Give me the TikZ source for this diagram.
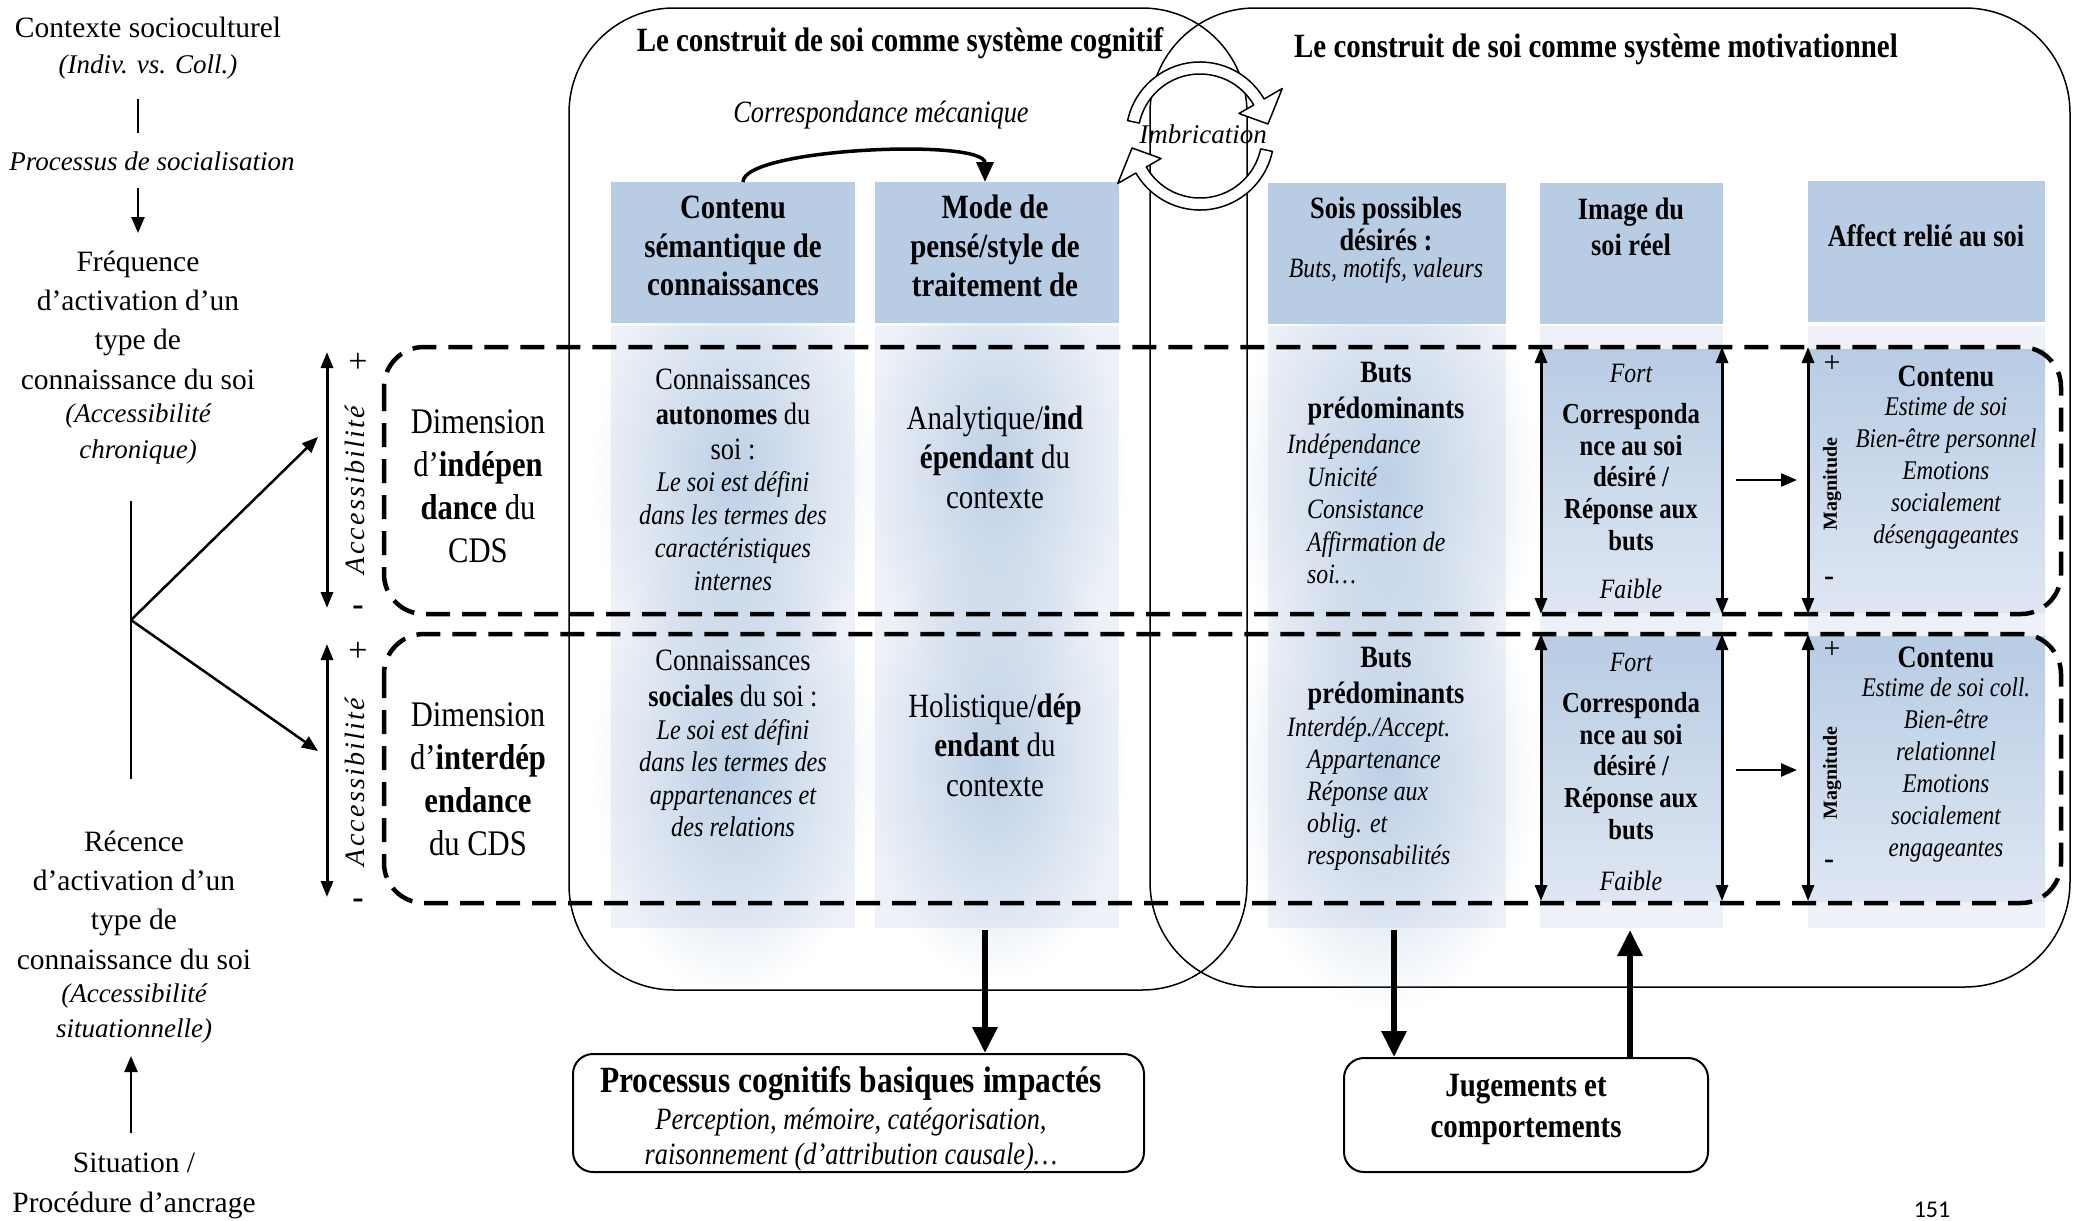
\documentclass[tikz,border=0pt]{standalone}
\usepackage{fontspec}
\setmainfont{Liberation Serif}
\newfontfamily\cond{Liberation Serif}[FakeStretch=0.85]
\newfontfamily\carl{Carlito}
\usetikzlibrary{arrows.meta,calc,fadings}
\definecolor{hdr}{RGB}{184,204,228}
\definecolor{bgc}{RGB}{238,242,248}
\colorlet{rowlow}{hdr!30!bgc}
\newcommand{\fsz}[2]{\fontsize{#1}{#2}\selectfont}
\tikzfading[name=blobfade, inner color=transparent!10, outer color=transparent!100]
\tikzset{
  tline/.style={line width=1.5pt},
  dbox/.style={line width=4.5pt, dash pattern=on 24pt off 12pt, rounded corners=40pt},
  bigarr/.style={line width=6pt, -{Triangle[length=26pt,width=24pt]}},
  medarr/.style={line width=2.5pt, -{Triangle[length=16pt,width=13pt]}},
  dblarr/.style={line width=3pt, {Triangle[length=16pt,width=12pt]}-{Triangle[length=16pt,width=12pt]}},
  txt/.style={inner sep=0pt, align=center},
  leftreg/.style={txt, font=\fsz{29.5}{39.3}},
  leftit/.style={txt, font=\itshape\fsz{27}{36}},
  hdrtxt/.style={txt, font=\cond\bfseries\fsz{34}{38.7}},
  coltxt/.style={txt, font=\cond\fsz{31}{35}},
  colit/.style={txt, font=\cond\itshape\fsz{28.5}{33}},
  boxtxt/.style={txt, font=\cond\fsz{34}{39.5}},
  ringarr/.style={fill=white, draw=black, line width=1.5pt},
  blob/.style={fill=hdr, path fading=blobfade},
  sign/.style={inner sep=0pt, font=\fsz{34}{36}},
  signm/.style={inner sep=0pt, font=\bfseries\fsz{34}{36}},
  rbox/.style={draw, line width=2pt, rounded corners=20pt, inner sep=0pt}
}
\begin{document}
\begin{tikzpicture}[x=1pt, y=-1pt, line join=round]
\useasboundingbox (0,0) rectangle (2078,1221);
\fill[white] (0,0) rectangle (2078,1221);

% ---------- big rounded systems ----------
\draw[tline, rounded corners=105pt] (569,8) rectangle (1247,990);
\draw[tline, rounded corners=105pt] (1150,8) rectangle (2070,987);

% ---------- column backgrounds ----------
\fill[bgc] (611,326) rectangle (855,928);
\fill[bgc] (875,326) rectangle (1119,928);
\fill[bgc] (1268,326) rectangle (1506,928);
\fill[bgc] (1540,326) rectangle (1723,928);
\fill[bgc] (1808,326) rectangle (2045,928);

\fill[blob] (593,245) rectangle (873,705);
\fill[blob] (593,535) rectangle (873,995);
\fill[blob] (865,250) rectangle (1125,690);
\fill[blob] (865,540) rectangle (1125,980);
\fill[blob] (1236,240) rectangle (1536,720);
\fill[blob] (1236,530) rectangle (1536,1010);

\shade[top color=hdr, bottom color=rowlow] (1540,349) rectangle (1723,612);
\shade[top color=hdr, bottom color=rowlow] (1540,636) rectangle (1723,901);
\shade[top color=hdr, bottom color=rowlow] (1808,349) rectangle (2045,612);
\shade[top color=hdr, bottom color=rowlow] (1808,636) rectangle (2045,901);

% ---------- headers ----------
\fill[hdr] (611,182) rectangle (855,323);
\fill[hdr] (875,182) rectangle (1119,323);
\fill[hdr] (1268,183) rectangle (1506,324);
\fill[hdr] (1540,183) rectangle (1723,324);
\fill[hdr] (1808,181) rectangle (2045,322);

\node[hdrtxt] (h1) at (733,246) {Contenu\\sémantique de\\connaissances};
\node[hdrtxt] (h2) at (995,246) {Mode de\\pensé/style de\\traitement de};
\node[txt, font=\cond\bfseries\fsz{31}{32}] (h3) at (1386,224) {Sois possibles\\désirés :};
\node[txt, font=\cond\itshape\fsz{28}{30}] (h3b) at (1386,271) {Buts, motifs, valeurs};
\node[txt, font=\cond\bfseries\fsz{31}{36}] (h4) at (1631,227) {Image du\\soi réel};
\node[txt, font=\cond\bfseries\fsz{31}{34}] (h5) at (1926,236) {Affect relié au soi};

% ---------- titles ----------
\node[txt, font=\cond\bfseries\fsz{34}{38}] (tcog) at (900,43) {Le construit de soi comme système cognitif};
\node[txt, font=\cond\bfseries\fsz{34}{38}] (tmot) at (1596,49) {Le construit de soi comme système motivationnel};
\node[txt, font=\cond\itshape\fsz{31}{34}] (corr) at (881,115) {Correspondance mécanique};
\coordinate (h1top) at (743,182);
\coordinate (h2top) at (985,182);
\draw[line width=3.5pt, -{Triangle[length=20pt,width=17pt]}] (h1top) .. controls (743,148) and (985,138) .. (h2top);

% ---------- imbrication ring ----------
\begin{scope}[shift={(1200,136)}]
\filldraw[ringarr] (192:74) arc[start angle=192, end angle=330, radius=74] -- (330:95) -- (350:69) -- (330:45) -- (330:62) arc[start angle=330, end angle=192, radius=62] -- cycle;
\filldraw[ringarr] (12:74) arc[start angle=12, end angle=150, radius=74] -- (150:95) -- (170:69) -- (150:45) -- (150:62) arc[start angle=150, end angle=12, radius=62] -- cycle;
\end{scope}
\node[txt, font=\itshape\fsz{27}{30}] (imb) at (1203,134) {Imbrication};

% ---------- left column ----------
\node[leftreg] (ctx) at (148,27) {Contexte socioculturel};
\node[leftit] (indiv) at (148,67) {(Indiv. vs. Coll.)};
\node[leftit] (proc) at (152,161) {Processus de socialisation};
\node[leftreg] (freq) at (138,320) {Fréquence\\d’activation d’un\\type de\\connaissance du soi};
\node[leftit] (freqa) at (138,434) {(Accessibilité\\chronique)};
\node[leftreg] (rec) at (134,900) {Récence\\d’activation d’un\\type de\\connaissance du soi};
\node[leftit, font=\itshape\fsz{27}{35}] (reca) at (134,1013) {(Accessibilité\\situationnelle)};
\node[leftreg] (sit) at (134,1186) {Situation /\\Procédure d’ancrage};

\coordinate (l1a) at (138,99); \coordinate (l1b) at (138,133);
\draw[line width=2pt] (l1a) -- (l1b);
\coordinate (l2a) at (138,188); \coordinate (l2b) at (138,233);
\draw[medarr] (l2a) -- (l2b);
\coordinate (vt) at (131,501); \coordinate (vbm) at (131,779); \coordinate (vb) at (131,620);
\draw[line width=2.5pt] (vt) -- (vbm);
\coordinate (at1) at (318,437); \coordinate (at2) at (318,751);
\draw[medarr] (vb) -- (at1);
\draw[medarr] (vb) -- (at2);
\coordinate (sa) at (131,1133); \coordinate (sb) at (131,1056);
\draw[medarr] (sa) -- (sb);

% ---------- accessibility ----------
\coordinate (ac1t) at (327,352); \coordinate (ac1b) at (327,608);
\coordinate (ac2t) at (327,644); \coordinate (ac2b) at (327,897);
\draw[dblarr] (ac1t) -- (ac1b);
\draw[dblarr] (ac2t) -- (ac2b);
\node[rotate=90, inner sep=0pt, font=\itshape\addfontfeature{LetterSpace=8}\fsz{28}{30}] (acc1) at (355,490) {Accessibilité};
\node[rotate=90, inner sep=0pt, font=\itshape\addfontfeature{LetterSpace=8}\fsz{28}{30}] (acc2) at (355,782) {Accessibilité};
\node[sign] (pl1) at (358,363) {+};
\node[signm] (mi1) at (358,611) {-};
\node[sign] (pl2) at (358,652) {+};
\node[signm] (mi2) at (358,904) {-};

\node[txt, font=\cond\fsz{36}{43}] (dim1) at (478,486) {Dimension\\d’\textbf{indépen}\\\textbf{dance} du\\CDS};
\node[txt, font=\cond\fsz{36}{43}] (dim2) at (478,779) {Dimension\\d’\textbf{interdép}\\\textbf{endance}\\du CDS};

% ---------- cognitive columns ----------
\node[coltxt] (c1a) at (733,414) {Connaissances\\\textbf{autonomes} du\\soi :};
\node[colit] (c1b) at (733,531) {Le soi est défini\\dans les termes des\\caractéristiques\\internes};
\node[coltxt, font=\cond\fsz{31}{36}] (c1c) at (733,678) {Connaissances\\\textbf{sociales} du soi :};
\node[colit, font=\cond\itshape\fsz{28.5}{32.5}] (c1d) at (733,778) {Le soi est défini\\dans les termes des\\appartenances et\\des relations};
\node[boxtxt] (c2a) at (995,457) {Analytique/\textbf{ind}\\\textbf{épendant} du\\contexte};
\node[boxtxt] (c2b) at (995,745) {Holistique/\textbf{dép}\\\textbf{endant} du\\contexte};

% ---------- motivational columns ----------
\node[txt, font=\cond\bfseries\fsz{31}{36}] (b1) at (1386,394) {Buts\\prédominants};
\node[inner sep=0pt, align=left, anchor=west, font=\cond\itshape\fsz{28}{32.5}] (b1i) at (1307,509) {\hspace*{-20pt}Indépendance\\Unicité\\Consistance\\Affirmation de\\soi…};
\node[txt, font=\cond\bfseries\fsz{31}{36}] (b2) at (1386,679) {Buts\\prédominants};
\node[inner sep=0pt, align=left, anchor=west, font=\cond\itshape\fsz{28}{32}] (b2i) at (1307,794) {\hspace*{-20pt}Interdép./Accept.\\Appartenance\\Réponse aux\\oblig. et\\responsabilités};

\node[txt, font=\cond\itshape\fsz{28}{30}] (fort1) at (1631,373) {Fort};
\node[txt, font=\cond\bfseries\fsz{29}{31.8}] (cor1) at (1631,477) {Corresponda\\nce au soi\\désiré /\\Réponse aux\\buts};
\node[txt, font=\cond\itshape\fsz{28}{30}] (faible1) at (1631,589) {Faible};
\node[txt, font=\cond\itshape\fsz{28}{30}] (fort2) at (1631,662) {Fort};
\node[txt, font=\cond\bfseries\fsz{29}{31.8}] (cor2) at (1631,766) {Corresponda\\nce au soi\\désiré /\\Réponse aux\\buts};
\node[txt, font=\cond\itshape\fsz{28}{30}] (faible2) at (1631,881) {Faible};

\node[txt, font=\cond\bfseries\fsz{31}{32}] (cont1) at (1946,376) {Contenu};
\node[txt, font=\cond\itshape\fsz{27}{32}] (cont1i) at (1946,473) {Estime de soi\\Bien-être personnel\\Emotions\\socialement\\désengageantes};
\node[txt, font=\cond\bfseries\fsz{31}{32}] (cont2) at (1946,657) {Contenu};
\node[txt, font=\cond\itshape\fsz{27}{32}] (cont2i) at (1946,770) {Estime de soi coll.\\Bien-être\\relationnel\\Emotions\\socialement\\engageantes};

\node[rotate=90, inner sep=0pt, font=\bfseries\fsz{20}{22}] (mag1) at (1832,484) {Magnitude};
\node[rotate=90, inner sep=0pt, font=\bfseries\fsz{20}{22}] (mag2) at (1832,773) {Magnitude};
\node[sign, font=\fsz{30}{32}] (mp1) at (1832,364) {+};
\node[signm, font=\bfseries\fsz{30}{32}] (mm1) at (1829,581) {-};
\node[sign, font=\fsz{30}{32}] (mp2) at (1832,650) {+};
\node[signm, font=\bfseries\fsz{30}{32}] (mm2) at (1829,864) {-};

\coordinate (i1t) at (1541,347); \coordinate (i1b) at (1541,614);
\coordinate (i2t) at (1722,347); \coordinate (i2b) at (1722,614);
\coordinate (i3t) at (1541,634); \coordinate (i3b) at (1541,901);
\coordinate (i4t) at (1722,634); \coordinate (i4b) at (1722,901);
\coordinate (m1t) at (1808,347); \coordinate (m1b) at (1808,614);
\coordinate (m2t) at (1808,634); \coordinate (m2b) at (1808,901);
\draw[dblarr] (i1t) -- (i1b);
\draw[dblarr] (i2t) -- (i2b);
\draw[dblarr] (i3t) -- (i3b);
\draw[dblarr] (i4t) -- (i4b);
\draw[dblarr] (m1t) -- (m1b);
\draw[dblarr] (m2t) -- (m2b);
\coordinate (s1a) at (1736,480); \coordinate (s1b) at (1797,480);
\coordinate (s2a) at (1736,770); \coordinate (s2b) at (1797,770);
\draw[medarr] (s1a) -- (s1b);
\draw[medarr] (s2a) -- (s2b);

% ---------- dashed dimension boxes ----------
\draw[dbox] (384,347) rectangle (2061,614);
\draw[dbox] (384,634) rectangle (2061,903);

% ---------- bottom boxes ----------
\node[rbox, minimum width=571pt, minimum height=118pt] (pcb) at (858.5,1113) {};
\node[txt, font=\cond\bfseries\fsz{37}{40}] (pcbt) at (851,1084) {Processus cognitifs basiques impactés};
\node[txt, font=\cond\itshape\fsz{31}{35}] (pcbi) at (851,1140) {Perception, mémoire, catégorisation,\\raisonnement (d’attribution causale)…};
\node[rbox, minimum width=364pt, minimum height=114pt] (jug) at (1526,1115) {};
\node[txt, font=\cond\bfseries\fsz{34}{41}] (jugt) at (1526,1109) {Jugements et\\comportements};

\coordinate (c2bot) at (985,930);
\coordinate (c3bot) at (1394,930);
\coordinate (c4bot) at (1630,930);
\draw[bigarr] (c2bot) -- (c2bot |- pcb.north);
\draw[bigarr] (c3bot) -- (c3bot |- jug.north);
\draw[bigarr] (c4bot |- jug.north) -- (c4bot);

\node[anchor=base, inner sep=0pt, font=\carl\fsz{24}{26}] (pg) at (1932,1217) {151};
\end{tikzpicture}
\end{document}
